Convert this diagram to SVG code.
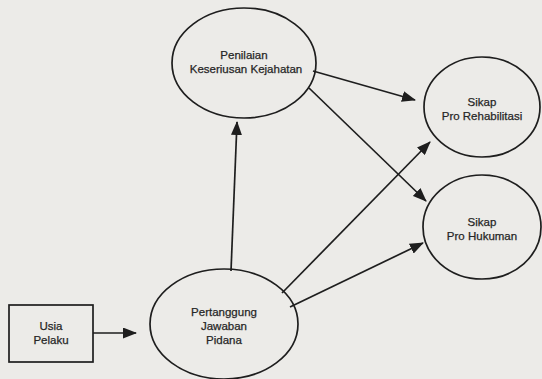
<svg xmlns="http://www.w3.org/2000/svg" width="542" height="379" viewBox="0 0 542 379">
<defs>
<marker id="ah" markerWidth="14" markerHeight="11" refX="13" refY="5.5" orient="auto" markerUnits="userSpaceOnUse">
<path d="M0,0 L14,5.5 L0,11 Z" fill="#1e1e1e"/>
</marker>
<style>
.n{fill:none;stroke:#1e1e1e;stroke-width:1.7}
.c{stroke:#1e1e1e;stroke-width:1.7;fill:none;marker-end:url(#ah)}
.t{font-family:"Liberation Sans",Arial,sans-serif;font-size:11.5px;fill:#262626;stroke:#262626;stroke-width:0.25;text-anchor:middle}
</style>
</defs>
<rect width="542" height="379" fill="#ecebe8"/>
<g id="connectors">
<line class="c" x1="93" y1="333" x2="136" y2="333"/>
<line class="c" x1="231" y1="271" x2="237" y2="122"/>
<line class="c" x1="313" y1="71" x2="415" y2="100"/>
<line class="c" x1="309" y1="88" x2="426" y2="201"/>
<line class="c" x1="282" y1="293" x2="430" y2="142"/>
<line class="c" x1="290" y1="307" x2="423" y2="243"/>
</g>
<g id="penilaian">
<ellipse class="n" cx="244" cy="63" rx="72" ry="55"/>
<text class="t" x="244" y="59">Penilaian</text>
<text class="t" x="246" y="73">Keseriusan Kejahatan</text>
</g>
<g id="rehabilitasi">
<ellipse class="n" cx="482" cy="107" rx="58" ry="50"/>
<text class="t" x="482" y="106">Sikap</text>
<text class="t" x="482" y="120">Pro Rehabilitasi</text>
</g>
<g id="hukuman">
<ellipse class="n" cx="482" cy="227" rx="59" ry="52"/>
<text class="t" x="482" y="226">Sikap</text>
<text class="t" x="482" y="240">Pro Hukuman</text>
</g>
<g id="pertanggung">
<ellipse class="n" cx="224" cy="324" rx="74" ry="55"/>
<text class="t" x="224" y="316">Pertanggung</text>
<text class="t" x="224" y="330">Jawaban</text>
<text class="t" x="224" y="344">Pidana</text>
</g>
<g id="usia">
<rect class="n" x="9" y="305" width="84" height="57"/>
<text class="t" x="51" y="330">Usia</text>
<text class="t" x="51" y="344">Pelaku</text>
</g>
</svg>
